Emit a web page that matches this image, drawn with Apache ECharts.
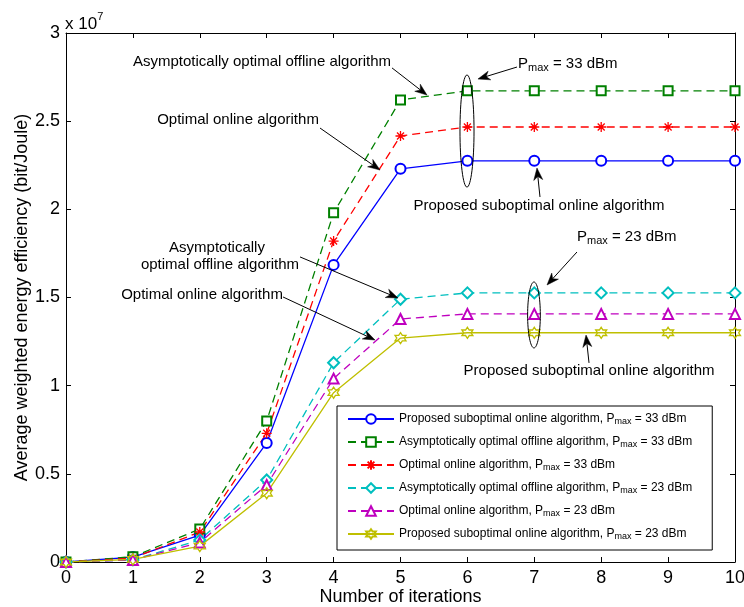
<!DOCTYPE html>
<html>
<head>
<meta charset="utf-8">
<script src="https://cdn.jsdelivr.net/npm/echarts@6/dist/echarts.min.js"></script>
<style>html,body{margin:0;padding:0;background:#fff}#c{width:744px;height:607px}</style>
</head>
<body>
<div id="c"></div>
<script>
// ---- data (values in units of 1e7 bit/Joule) ----
const iterations = [0, 1, 2, 3, 4, 5, 6, 7, 8, 9, 10];
const proposed33 = [0, 0.028, 0.153, 0.675, 1.685, 2.23, 2.275, 2.275, 2.275, 2.275, 2.275];
const asymOffline33 = [0, 0.03, 0.187, 0.80, 1.98, 2.62, 2.672, 2.672, 2.672, 2.672, 2.672];
const optOnline33 = [0, 0.022, 0.17, 0.73, 1.82, 2.416, 2.467, 2.467, 2.467, 2.467, 2.467];
const asymOffline23 = [0, 0.012, 0.125, 0.465, 1.13, 1.49, 1.526, 1.526, 1.526, 1.526, 1.526];
const optOnline23 = [0, 0.012, 0.11, 0.437, 1.04, 1.378, 1.407, 1.407, 1.407, 1.407, 1.407];
const proposed23 = [0, 0.015, 0.09, 0.39, 0.96, 1.27, 1.30, 1.30, 1.30, 1.30, 1.30];
const yTicks = [0, 0.5, 1, 1.5, 2, 2.5, 3];

const FONT = 'Liberation Sans, Arial, sans-serif';
const asterisk = 'path://M50 0 L50 100 M0 50 L100 50 M15 15 L85 85 M85 15 L15 85';
const hexagram = 'path://M50 0 L64.43 25 L93.3 25 L78.87 50 L93.3 75 L64.43 75 L50 100 L35.57 75 L6.7 75 L21.13 50 L6.7 25 L35.57 25 Z';

const seriesDefs = [
  {label: 'Proposed suboptimal online algorithm', p: 33, data: proposed33, color: '#0000ff', dash: 'solid', symbol: 'emptyCircle', size: 10, path: false},
  {label: 'Asymptotically optimal offline algorithm', p: 33, data: asymOffline33, color: '#008000', dash: [8, 5], symbol: 'emptyRect', size: 9, path: false},
  {label: 'Optimal online algorithm', p: 33, data: optOnline33, color: '#ff0000', dash: [8, 5], symbol: asterisk, size: 10, path: true},
  {label: 'Asymptotically optimal offline algorithm', p: 23, data: asymOffline23, color: '#00bfbf', dash: [8, 5], symbol: 'emptyDiamond', size: 11, path: false},
  {label: 'Optimal online algorithm', p: 23, data: optOnline23, color: '#bf00bf', dash: [8, 5], symbol: 'emptyTriangle', size: 10, path: false},
  {label: 'Proposed suboptimal online algorithm', p: 23, data: proposed23, color: '#bfbf00', dash: 'solid', symbol: hexagram, size: 11, path: true}
];

const nameMap = {};
const series = seriesDefs.map(d => {
  const name = d.label + ', Pmax = ' + d.p + ' dBm';
  nameMap[name] = '{n|' + d.label + ', P}{s|max}{n| = ' + d.p + ' dBm}';
  return {
    name: name,
    type: 'line',
    data: iterations.map((x, i) => [x, d.data[i]]),
    symbol: d.symbol,
    symbolSize: d.size,
    showAllSymbol: true,
    lineStyle: {color: d.color, width: 1.3, type: d.dash},
    itemStyle: d.path ? {color: 'rgba(0,0,0,0)', borderColor: d.color, borderWidth: 1.3} : {color: d.color, borderWidth: 1.3},
    emphasis: {disabled: true},
    animation: false,
    z: 3
  };
});

const chart = echarts.init(document.getElementById('c'), null, {renderer: 'canvas'});
const axisCommon = {
  min: 0,
  axisLine: {show: true, onZero: false, lineStyle: {color: '#000', width: 1}},
  axisTick: {show: true, inside: true, length: 5, lineStyle: {color: '#000'}},
  splitLine: {show: false}
};
chart.setOption({
  animation: false,
  backgroundColor: '#fff',
  grid: {left: 66, right: 9, top: 33, bottom: 45, outerBoundsMode: 'none', containLabel: false},
  xAxis: [
    Object.assign({}, axisCommon, {
      type: 'value', max: 10, interval: 1, position: 'bottom',
      name: 'Number of iterations', nameLocation: 'middle', nameGap: 26, nameMoveOverlap: false,
      nameTextStyle: {color: '#000', fontSize: 18, fontFamily: FONT},
      axisLabel: {color: '#000', fontSize: 18, fontFamily: FONT, margin: 7}
    }),
    Object.assign({}, axisCommon, {type: 'value', max: 10, interval: 1, position: 'top', axisLabel: {show: false}})
  ],
  yAxis: [
    Object.assign({}, axisCommon, {
      type: 'value', max: 3, interval: 0.5, position: 'left',
      name: 'Average weighted energy efficiency (bit/Joule)', nameLocation: 'middle', nameGap: 35, nameMoveOverlap: false,
      nameTextStyle: {color: '#000', fontSize: 18, fontFamily: FONT},
      axisLabel: {color: '#000', fontSize: 18, fontFamily: FONT, margin: 6,
        formatter: v => yTicks.indexOf(v) >= 0 ? String(v) : ''}
    }),
    Object.assign({}, axisCommon, {type: 'value', max: 3, interval: 0.5, position: 'right', axisLabel: {show: false}})
  ],
  legend: {
    orient: 'vertical', left: 337, top: 406,
    backgroundColor: '#fff', borderColor: '#000', borderWidth: 1,
    padding: [7, 20, 9, 10], itemGap: 10, itemWidth: 46, itemHeight: 12,
    formatter: n => nameMap[n],
    textStyle: {
      color: '#000', fontFamily: FONT,
      rich: {
        n: {fontSize: 12, fontFamily: FONT, color: '#000', lineHeight: 14},
        s: {fontSize: 9, fontFamily: FONT, color: '#000', lineHeight: 4, verticalAlign: 'bottom'}
      }
    },
    selectedMode: false
  },
  series: series
});

// ---- annotations (positions in data coordinates) ----
const annTexts = [
  {t: 'Asymptotically optimal offline algorithm', at: [2.93, 2.836]},
  {t: 'Optimal online algorithm', at: [2.571, 2.507]},
  {t: 'Proposed suboptimal online algorithm', at: [7.07, 2.019]},
  {t: 'Asymptotically', at: [2.257, 1.781]},
  {t: 'optimal offline algorithm', at: [2.302, 1.684]},
  {t: 'Optimal online algorithm', at: [2.033, 1.514]},
  {t: 'Proposed suboptimal online algorithm', at: [7.818, 1.083]}
];
const pmaxTexts = [
  {p: 33, at: [6.756, 2.824]},
  {p: 23, at: [7.638, 1.843]}
];
const arrows = [
  {from: [4.873, 2.802], to: [5.396, 2.648]},
  {from: [3.797, 2.461], to: [4.694, 2.223]},
  {from: [6.741, 2.807], to: [6.158, 2.739]},
  {from: [7.085, 2.07], to: [7.04, 2.234]},
  {from: [3.498, 1.730], to: [4.963, 1.497]},
  {from: [3.244, 1.503], to: [4.619, 1.259]},
  {from: [7.638, 1.758], to: [7.19, 1.571]},
  {from: [7.818, 1.129], to: [7.773, 1.287]}
];
const ellipses = [
  {c: [5.994, 2.444], rx: 0.105, ry: 0.318},
  {c: [6.995, 1.401], rx: 0.095, ry: 0.187}
];

function px(p) { return chart.convertToPixel({gridIndex: 0}, p); }
const g = [];
annTexts.forEach(a => {
  const p = px(a.at);
  g.push({type: 'text', z: 10, style: {text: a.t, x: p[0], y: p[1], align: 'center', verticalAlign: 'middle',
    fontSize: 15, fontFamily: FONT, fill: '#000'}});
});
pmaxTexts.forEach(a => {
  const p = px(a.at);
  g.push({type: 'text', z: 10, style: {text: '{n|P}{s|max}{n| = ' + a.p + ' dBm}', x: p[0], y: p[1], align: 'left', verticalAlign: 'middle',
    rich: {n: {fontSize: 15, fontFamily: FONT, fill: '#000', lineHeight: 18}, s: {fontSize: 11, fontFamily: FONT, fill: '#000', lineHeight: 4, verticalAlign: 'bottom'}}}});
});
arrows.forEach(a => {
  const p0 = px(a.from), p1 = px(a.to);
  const dx = p1[0] - p0[0], dy = p1[1] - p0[1];
  const len = Math.sqrt(dx * dx + dy * dy);
  const ux = dx / len, uy = dy / len;
  const L = 12, W = 4.5;
  const bx = p1[0] - ux * L, by = p1[1] - uy * L;
  const nx = p1[0] - ux * L * 0.7, ny = p1[1] - uy * L * 0.7;
  const qx = -uy, qy = ux;
  g.push({type: 'polyline', z: 10, shape: {points: [p0, [nx, ny]]}, style: {stroke: '#000', lineWidth: 1, fill: null}});
  g.push({type: 'polygon', z: 10, shape: {points: [p1, [bx + qx * W, by + qy * W], [nx, ny], [bx - qx * W, by - qy * W]]},
    style: {fill: '#000', stroke: '#000', lineWidth: 0.5}});
});
ellipses.forEach(e => {
  const c = px(e.c), a = px([e.c[0] + e.rx, e.c[1] + e.ry]);
  g.push({type: 'ellipse', z: 10, shape: {cx: c[0], cy: c[1], rx: Math.abs(a[0] - c[0]), ry: Math.abs(a[1] - c[1])},
    style: {fill: null, stroke: '#000', lineWidth: 1}});
});
// axis exponent label
const corner = px([0, 3]);
g.push({type: 'text', z: 10, style: {text: '{n|x 10}{e|7}', x: corner[0] - 1, y: corner[1] - 12, align: 'left', verticalAlign: 'middle',
  rich: {n: {fontSize: 17, fontFamily: FONT, fill: '#000', lineHeight: 20, padding: [6, 0, 0, 0]}, e: {fontSize: 11, fontFamily: FONT, fill: '#000', lineHeight: 20, verticalAlign: 'top'}}}});

chart.setOption({graphic: g});
</script>
</body>
</html>
